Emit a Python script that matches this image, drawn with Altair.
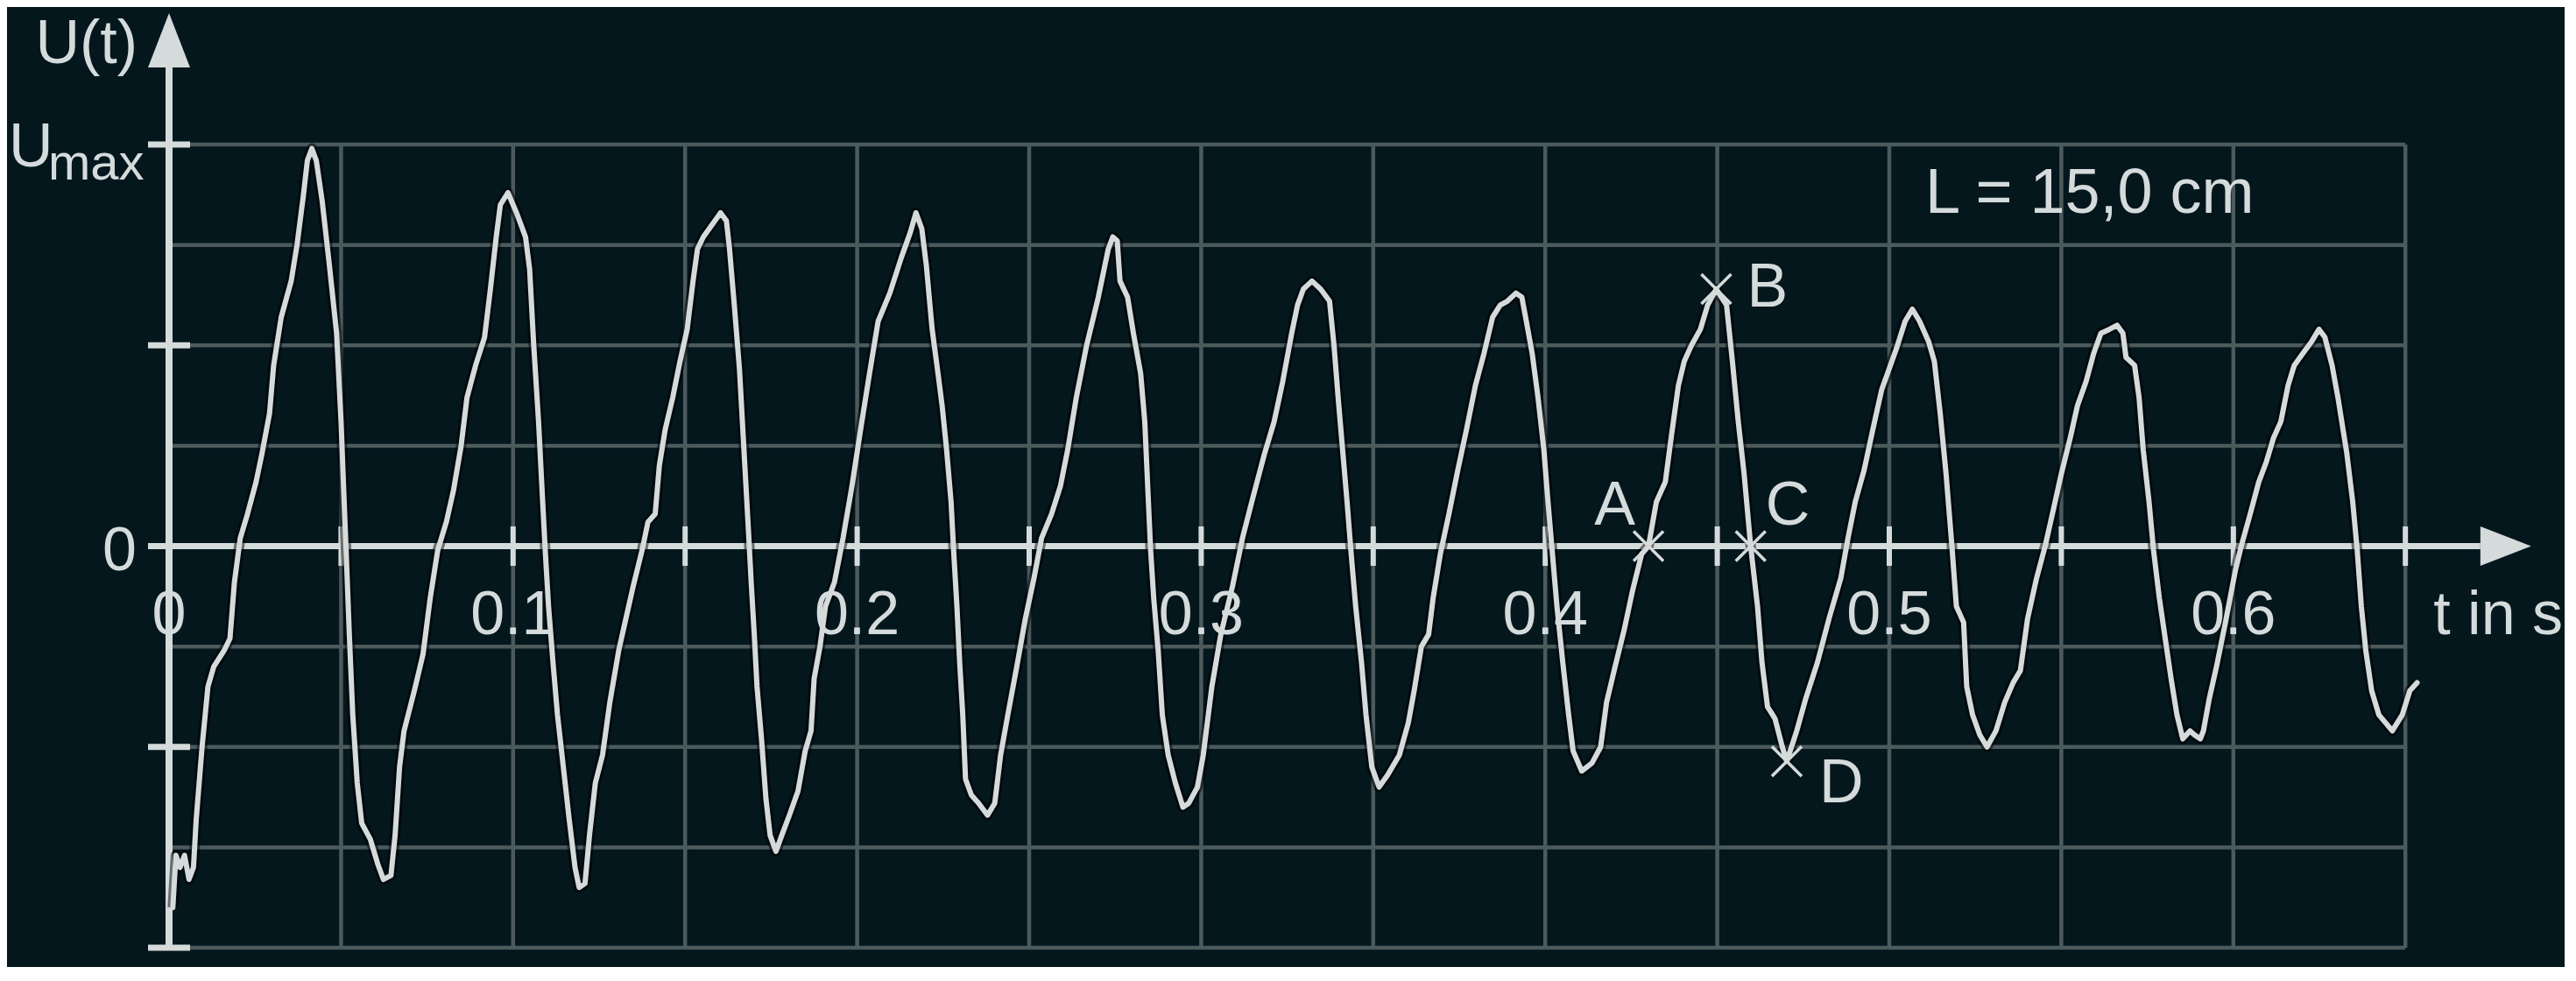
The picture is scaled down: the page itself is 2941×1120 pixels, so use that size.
import altair as alt
import pandas as pd

# ---------------- data ----------------
T = [0.0011, 0.0020, 0.0032, 0.0045, 0.0058, 0.0071, 0.0079, 0.0096, 0.0113, 0.0130,
     0.0160, 0.0177, 0.0190, 0.0207, 0.0228, 0.0253, 0.0270, 0.0292, 0.0304, 0.0326,
     0.0355, 0.0372, 0.0390, 0.0402, 0.0415, 0.0428, 0.0445, 0.0466, 0.0487, 0.0500,
     0.0509, 0.0515, 0.0524, 0.0534, 0.0547, 0.0560, 0.0585, 0.0606, 0.0623, 0.0645,
     0.0657, 0.0670, 0.0683, 0.0713, 0.0738, 0.0759, 0.0781, 0.0806, 0.0827, 0.0849,
     0.0866, 0.0891, 0.0917, 0.0934, 0.0951, 0.0963, 0.0985, 0.1010, 0.1036, 0.1048,
     0.1060, 0.1074, 0.1086, 0.1094, 0.1103, 0.1116, 0.1129, 0.1146, 0.1163, 0.1180,
     0.1192, 0.1209, 0.1222, 0.1239, 0.1260, 0.1281, 0.1307, 0.1328, 0.1349, 0.1375,
     0.1392, 0.1413, 0.1425, 0.1442, 0.1464, 0.1485, 0.1506, 0.1523, 0.1536, 0.1553,
     0.1578, 0.1603, 0.1620, 0.1629, 0.1642, 0.1658, 0.1671, 0.1684, 0.1692, 0.1701,
     0.1709, 0.1722, 0.1735, 0.1747, 0.1764, 0.1781, 0.1803, 0.1828, 0.1849, 0.1866,
     0.1875, 0.1892, 0.1908, 0.1934, 0.1959, 0.1985, 0.2010, 0.2036, 0.2061, 0.2095,
     0.2129, 0.2154, 0.2171, 0.2188, 0.2201, 0.2218, 0.2235, 0.2247, 0.2260, 0.2273,
     0.2281, 0.2290, 0.2298, 0.2307, 0.2315, 0.2332, 0.2353, 0.2379, 0.2400, 0.2417,
     0.2438, 0.2464, 0.2489, 0.2514, 0.2536, 0.2565, 0.2591, 0.2612, 0.2637, 0.2667,
     0.2701, 0.2730, 0.2743, 0.2756, 0.2764, 0.2786, 0.2803, 0.2824, 0.2836, 0.2845,
     0.2853, 0.2862, 0.2875, 0.2887, 0.2904, 0.2925, 0.2947, 0.2964, 0.2989, 0.3006,
     0.3031, 0.3057, 0.3091, 0.3120, 0.3150, 0.3184, 0.3212, 0.3237, 0.3263, 0.3280,
     0.3297, 0.3322, 0.3347, 0.3373, 0.3386, 0.3398, 0.3411, 0.3424, 0.3436, 0.3449,
     0.3466, 0.3479, 0.3496, 0.3517, 0.3542, 0.3576, 0.3602, 0.3619, 0.3640, 0.3661,
     0.3674, 0.3695, 0.3720, 0.3746, 0.3771, 0.3797, 0.3822, 0.3847, 0.3869, 0.3890,
     0.3915, 0.3932, 0.3945, 0.3962, 0.3979, 0.3996, 0.4008, 0.4021, 0.4034, 0.4051,
     0.4068, 0.4081, 0.4106, 0.4136, 0.4161, 0.4178, 0.4203, 0.4229, 0.4254, 0.4280,
     0.4300, 0.4323, 0.4349, 0.4366, 0.4387, 0.4404, 0.4425, 0.4451, 0.4472, 0.4497,
     0.4527, 0.4544, 0.4561, 0.4578, 0.4597, 0.4617, 0.4630, 0.4646, 0.4668, 0.4689,
     0.4702, 0.4731, 0.4757, 0.4791, 0.4825, 0.4859, 0.4880, 0.4901, 0.4927, 0.4952,
     0.4978, 0.4999, 0.5020, 0.5046, 0.5067, 0.5088, 0.5114, 0.5131, 0.5148, 0.5165,
     0.5182, 0.5195, 0.5216, 0.5225, 0.5242, 0.5263, 0.5284, 0.5310, 0.5335, 0.5360,
     0.5381, 0.5402, 0.5428, 0.5453, 0.5474, 0.5500, 0.5526, 0.5547, 0.5572, 0.5594,
     0.5615, 0.5640, 0.5662, 0.5679, 0.5688, 0.5713, 0.5726, 0.5738, 0.5755, 0.5768,
     0.5785, 0.5802, 0.5819, 0.5836, 0.5853, 0.5874, 0.5887, 0.5904, 0.5913, 0.5930,
     0.5951, 0.5977, 0.6006, 0.6023, 0.6049, 0.6074, 0.6096, 0.6117, 0.6138, 0.6159,
     0.6177, 0.6202, 0.6228, 0.6249, 0.6266, 0.6287, 0.6304, 0.6330, 0.6347, 0.6360,
     0.6372, 0.6385, 0.6402, 0.6423, 0.6462, 0.6491, 0.6513, 0.6534]

U = [-0.90, -0.77, -0.80, -0.77, -0.83, -0.80, -0.68, -0.50, -0.35, -0.30,
     -0.26, -0.23, -0.09, 0.02, 0.08, 0.16, 0.23, 0.33, 0.45, 0.57,
     0.66, 0.75, 0.87, 0.96, 0.99, 0.96, 0.86, 0.70, 0.53, 0.31,
     0.11, -0.02, -0.22, -0.42, -0.59, -0.69, -0.73, -0.79, -0.83, -0.82,
     -0.72, -0.55, -0.46, -0.36, -0.27, -0.13, -0.01, 0.06, 0.14, 0.25,
     0.37, 0.45, 0.52, 0.64, 0.77, 0.85, 0.88, 0.83, 0.77, 0.69,
     0.50, 0.31, 0.11, -0.02, -0.15, -0.29, -0.42, -0.55, -0.68, -0.80,
     -0.85, -0.84, -0.72, -0.59, -0.52, -0.39, -0.26, -0.18, -0.10, -0.01,
     0.06, 0.08, 0.20, 0.29, 0.37, 0.46, 0.54, 0.66, 0.74, 0.77,
     0.80, 0.83, 0.81, 0.74, 0.61, 0.44, 0.24, 0.04, -0.09, -0.22,
     -0.35, -0.48, -0.63, -0.72, -0.76, -0.72, -0.67, -0.61, -0.51, -0.46,
     -0.33, -0.25, -0.15, -0.09, 0.02, 0.15, 0.29, 0.43, 0.56, 0.63,
     0.72, 0.78, 0.83, 0.79, 0.70, 0.54, 0.43, 0.35, 0.24, 0.11,
     -0.02, -0.15, -0.29, -0.42, -0.58, -0.62, -0.64, -0.67, -0.64, -0.52,
     -0.42, -0.30, -0.18, -0.08, 0.02, 0.08, 0.15, 0.24, 0.37, 0.50,
     0.62, 0.74, 0.77, 0.76, 0.66, 0.62, 0.53, 0.43, 0.31, 0.14,
     -0.01, -0.13, -0.26, -0.42, -0.52, -0.59, -0.65, -0.64, -0.60, -0.52,
     -0.35, -0.22, -0.10, 0.02, 0.12, 0.23, 0.31, 0.41, 0.53, 0.60,
     0.64, 0.66, 0.64, 0.61, 0.50, 0.37, 0.24, 0.11, -0.02, -0.15,
     -0.29, -0.42, -0.55, -0.60, -0.57, -0.52, -0.44, -0.36, -0.25, -0.22,
     -0.13, -0.02, 0.08, 0.19, 0.29, 0.40, 0.48, 0.57, 0.60, 0.61,
     0.63, 0.62, 0.56, 0.48, 0.37, 0.24, 0.11, -0.02, -0.15, -0.29,
     -0.42, -0.51, -0.56, -0.54, -0.50, -0.39, -0.30, -0.21, -0.11, -0.02,
     0.00, 0.11, 0.16, 0.27, 0.40, 0.46, 0.50, 0.54, 0.60, 0.64,
     0.60, 0.46, 0.31, 0.18, 0.00, -0.15, -0.29, -0.40, -0.43, -0.50,
     -0.536, -0.46, -0.38, -0.29, -0.18, -0.08, 0.02, 0.11, 0.19, 0.29,
     0.39, 0.44, 0.49, 0.56, 0.59, 0.56, 0.51, 0.46, 0.33, 0.18,
     0.00, -0.15, -0.19, -0.35, -0.42, -0.47, -0.50, -0.46, -0.39, -0.34,
     -0.31, -0.18, -0.08, 0.00, 0.08, 0.18, 0.27, 0.35, 0.41, 0.48,
     0.53, 0.54, 0.55, 0.53, 0.47, 0.45, 0.37, 0.24, 0.11, -0.01,
     -0.13, -0.23, -0.33, -0.42, -0.48, -0.46, -0.47, -0.48, -0.46, -0.38,
     -0.30, -0.19, -0.06, 0.00, 0.08, 0.16, 0.21, 0.27, 0.31, 0.40,
     0.45, 0.48, 0.51, 0.54, 0.52, 0.45, 0.37, 0.23, 0.11, -0.01,
     -0.15, -0.26, -0.36, -0.42, -0.46, -0.42, -0.36, -0.34]

GRID_T = [0.05, 0.10, 0.15, 0.20, 0.25, 0.30, 0.35, 0.40, 0.45, 0.50, 0.55, 0.60, 0.65]
GRID_U = [-1.0, -0.75, -0.5, -0.25, 0.25, 0.5, 0.75, 1.0]
XTICK_T = [0.05, 0.10, 0.15, 0.20, 0.25, 0.30, 0.35, 0.40, 0.45, 0.50, 0.55, 0.60, 0.65]
YTICK_U = [-1.0, -0.5, 0.0, 0.5, 1.0]
XLABEL_T = [0.0, 0.1, 0.2, 0.3, 0.4, 0.5, 0.6]
XLABEL_TXT = ["0", "0.1", "0.2", "0.3", "0.4", "0.5", "0.6"]

POINT_NAMES = ["A", "B", "C", "D"]
POINT_T = [0.4300, 0.4497, 0.4597, 0.4702]
POINT_U = [0.0, 0.64, 0.0, -0.536]

# ---------------- layout / style ----------------
W, H = 2920, 1096
PX_PER_T = 3928.0      # pixels per second
PX_PER_U = 458.5       # pixels per Umax
X0_PX, Y1_PX = 185.0, 157.0   # plot-area pixel of t=0 and of U=+Umax
T_MIN = -X0_PX / PX_PER_T
T_MAX = T_MIN + W / PX_PER_T
U_MAX = 1 + Y1_PX / PX_PER_U
U_MIN = U_MAX - H / PX_PER_U

T_END = 0.65
Y_AXIS_TOP = 1.192
X_AXIS_END = 0.6718
TICK_LEFT = -0.006

BG = "#03171d"
GRID = "#4d5a5c"
LIGHT = "#d5dada"
FONT = "Liberation Sans, Arial, sans-serif"
FS = 70

XS = alt.Scale(domain=[T_MIN, T_MAX], nice=False, zero=False)
YS = alt.Scale(domain=[U_MIN, U_MAX], nice=False, zero=False)


def X(f):
    return alt.X(f, type="quantitative", scale=XS, axis=None)


def Y(f):
    return alt.Y(f, type="quantitative", scale=YS, axis=None)


curve = pd.DataFrame({"t": T, "u": U, "i": list(range(len(T)))})
vgrid = pd.DataFrame({"t": GRID_T, "lo": [-1.0] * len(GRID_T), "hi": [1.0] * len(GRID_T)})
hgrid = pd.DataFrame({"u": GRID_U, "lo": [0.0] * len(GRID_U), "hi": [T_END] * len(GRID_U)})
xticks = pd.DataFrame({"t": XTICK_T, "u": [0.0] * len(XTICK_T)})
yticks = pd.DataFrame({"t": [0.0] * len(YTICK_U), "u": YTICK_U})
xlabels = pd.DataFrame({"t": XLABEL_T, "u": [0.0] * len(XLABEL_T), "txt": XLABEL_TXT})
pts = pd.DataFrame({"t": POINT_T, "u": POINT_U, "name": POINT_NAMES})
yaxis = pd.DataFrame({"t": [0.0], "lo": [-1.0], "hi": [Y_AXIS_TOP]})
xaxis = pd.DataFrame({"u": [0.0], "lo": [TICK_LEFT], "hi": [X_AXIS_END]})
yarrow = pd.DataFrame({"t": [0.0], "u": [Y_AXIS_TOP]})
xarrow = pd.DataFrame({"t": [X_AXIS_END], "u": [0.0]})
anchor = pd.DataFrame({"t": [0.0], "u": [1.0]})
anchor0 = pd.DataFrame({"t": [0.0], "u": [0.0]})
anchor_end = pd.DataFrame({"t": [T_END], "u": [0.0]})
anchor_L = pd.DataFrame({"t": [0.5], "u": [1.0]})

layers = []

layers.append(alt.Chart(vgrid).mark_rule(color=GRID, strokeWidth=4.5).encode(
    x=X("t"), y=Y("lo"), y2="hi"))
layers.append(alt.Chart(hgrid).mark_rule(color=GRID, strokeWidth=4.5).encode(
    x=X("lo"), x2="hi", y=Y("u")))

# axes
layers.append(alt.Chart(yaxis).mark_rule(color=LIGHT, strokeWidth=8).encode(
    x=X("t"), y=Y("lo"), y2="hi"))
layers.append(alt.Chart(xaxis).mark_rule(color=LIGHT, strokeWidth=7).encode(
    x=X("lo"), x2="hi", y=Y("u")))
layers.append(alt.Chart(xticks).mark_tick(orient="vertical", size=45, thickness=6,
                                          color=LIGHT, opacity=1).encode(x=X("t"), y=Y("u")))
layers.append(alt.Chart(yticks).mark_tick(orient="horizontal", size=48, thickness=7,
                                          color=LIGHT, opacity=1).encode(x=X("t"), y=Y("u")))
layers.append(alt.Chart(yarrow).mark_point(shape="M0,-2L0.774,0L-0.774,0Z", size=3844,
                                           filled=True, color=LIGHT, opacity=1).encode(
    x=X("t"), y=Y("u")))
layers.append(alt.Chart(xarrow).mark_point(shape="M2,0L0,-0.776L0,0.776Z", size=3364,
                                           filled=True, color=LIGHT, opacity=1).encode(
    x=X("t"), y=Y("u")))

# curve with dark halo
layers.append(alt.Chart(curve).mark_line(color="#000000", strokeWidth=12, opacity=0.5,
                                         strokeJoin="round").encode(
    x=X("t"), y=Y("u"), order="i:Q"))
layers.append(alt.Chart(curve).mark_line(color=LIGHT, strokeWidth=6,
                                         strokeJoin="round", strokeCap="round").encode(
    x=X("t"), y=Y("u"), order="i:Q"))

# point markers
layers.append(alt.Chart(pts).mark_point(shape="M-1,-1L1,1M-1,1L1,-1", size=1156, filled=False,
                                        color=LIGHT, strokeWidth=3.5, opacity=1).encode(
    x=X("t"), y=Y("u")))

LABEL_OFFSETS = {"A": ("right", -15, -25), "B": ("left", 35, 20),
                 "C": ("left", 17, -25), "D": ("left", 37, 47)}
for nm in POINT_NAMES:
    al, dx, dy = LABEL_OFFSETS[nm]
    layers.append(alt.Chart(pts).transform_filter(alt.datum.name == nm).mark_text(
        align=al, baseline="alphabetic", dx=dx, dy=dy, font=FONT, fontSize=FS, color=LIGHT
    ).encode(x=X("t"), y=Y("u"), text="name:N"))

# tick labels
layers.append(alt.Chart(xlabels).mark_text(
    align="center", baseline="alphabetic", dy=100, font=FONT, fontSize=FS, color=LIGHT
).encode(x=X("t"), y=Y("u"), text="txt:N"))
layers.append(alt.Chart(anchor0).mark_text(
    text="0", align="right", baseline="alphabetic", dx=-37, dy=27, font=FONT, fontSize=FS, color=LIGHT
).encode(x=X("t"), y=Y("u")))
layers.append(alt.Chart(anchor).mark_text(
    text="U", align="left", baseline="alphabetic", dx=-183, dy=25, font=FONT, fontSize=FS, color=LIGHT
).encode(x=X("t"), y=Y("u")))
layers.append(alt.Chart(anchor).mark_text(
    text="max", align="left", baseline="alphabetic", dx=-138, dy=40, font=FONT, fontSize=58, color=LIGHT
).encode(x=X("t"), y=Y("u")))
layers.append(alt.Chart(anchor).mark_text(
    text="U(t)", align="right", baseline="alphabetic", dx=-36, dy=-93, font=FONT, fontSize=FS, color=LIGHT
).encode(x=X("t"), y=Y("u")))
layers.append(alt.Chart(anchor_end).mark_text(
    text="t in s", align="left", baseline="alphabetic", dx=32, dy=100, font=FONT, fontSize=FS, color=LIGHT
).encode(x=X("t"), y=Y("u")))
layers.append(alt.Chart(anchor_L).mark_text(
    text="L = 15,0 cm", align="left", baseline="alphabetic", dx=41, dy=78, font=FONT, fontSize=72, color=LIGHT
).encode(x=X("t"), y=Y("u")))

chart = alt.layer(*layers).properties(
    width=W, height=H, background=BG, padding=0,
    autosize=alt.AutoSizeParams(type="none"),
).configure_view(stroke=None)

chart.save("out.html", embed_options={"renderer": "svg", "actions": False})
